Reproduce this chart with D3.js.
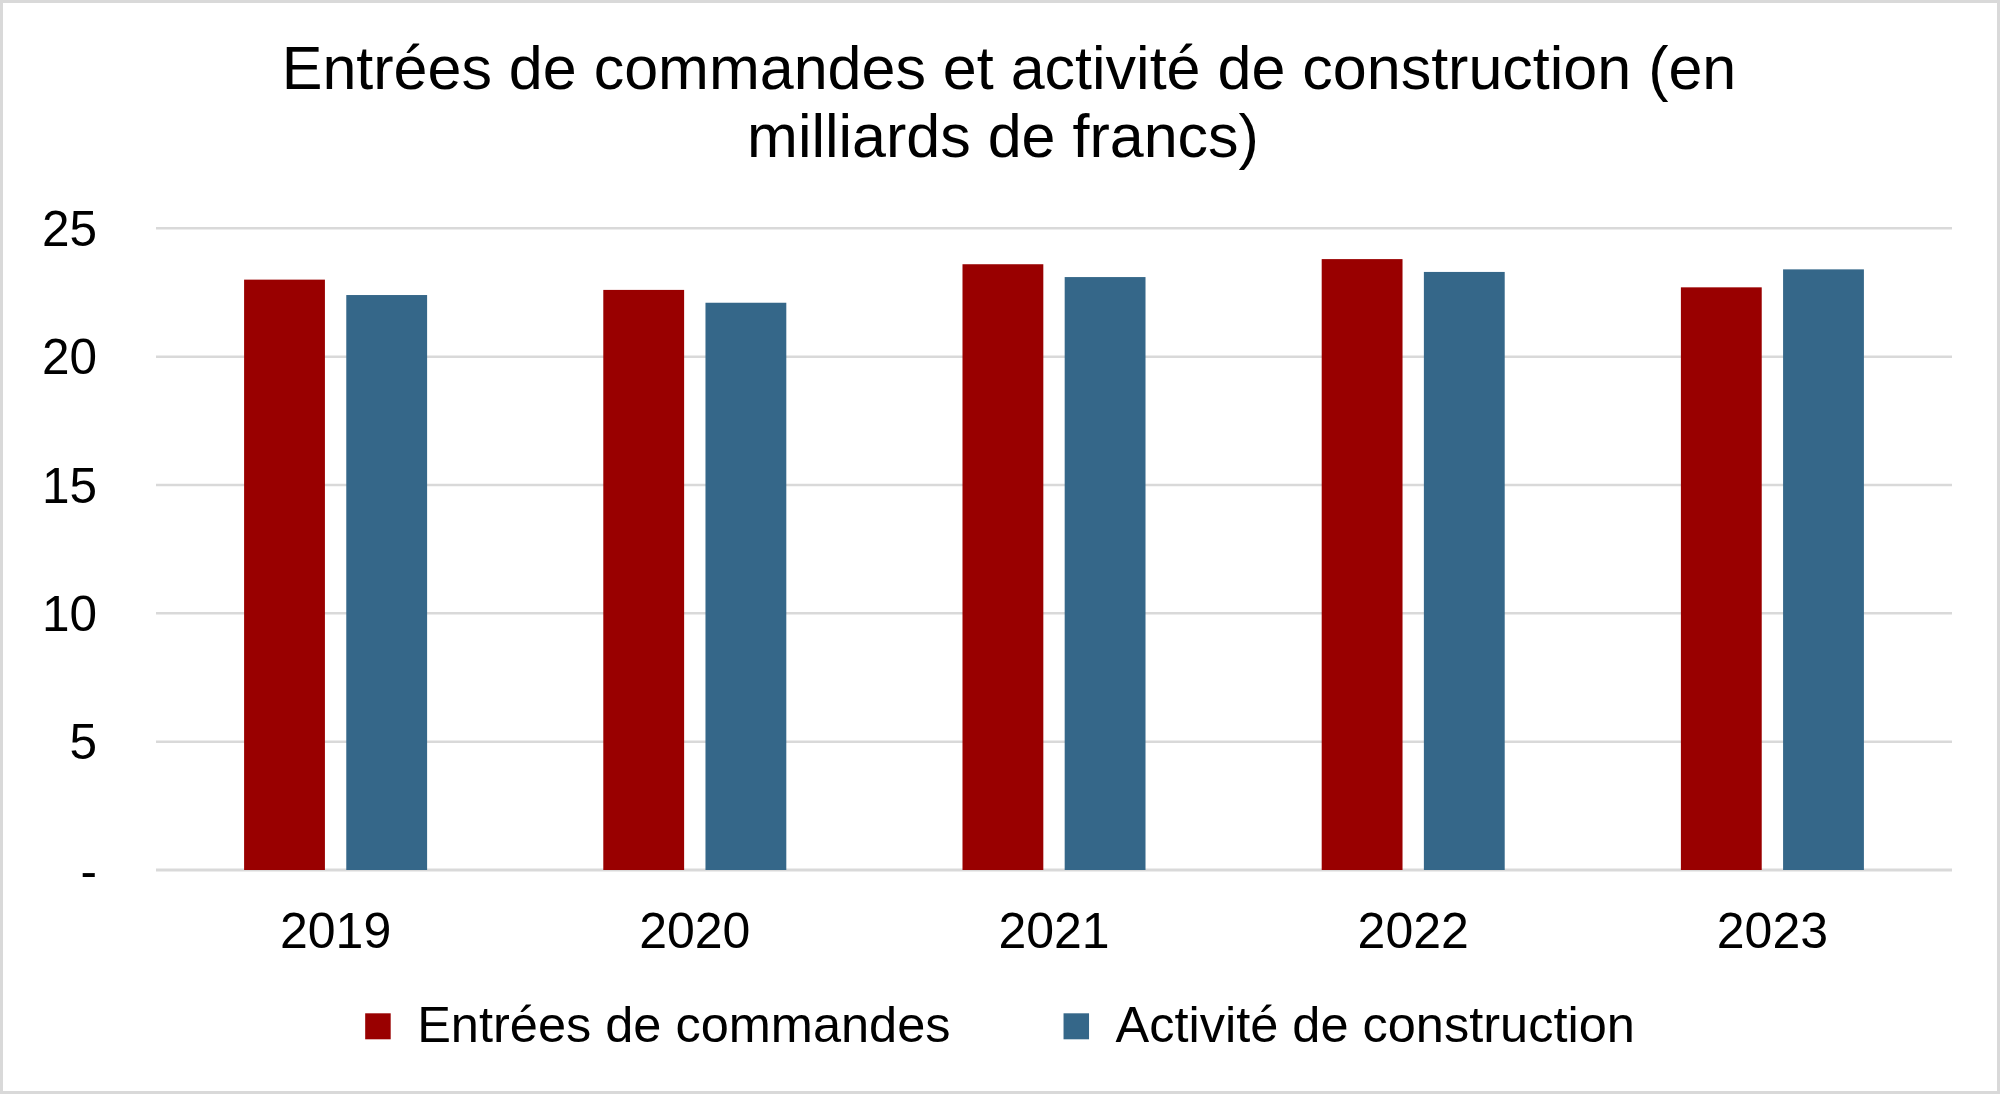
<!DOCTYPE html>
<html>
<head>
<meta charset="utf-8">
<script src="https://cdn.jsdelivr.net/npm/d3@7"></script>
<style>
  html, body { margin: 0; padding: 0; background: #fff; }
  svg { display: block; }
  text { font-family: "Liberation Sans", Arial, sans-serif; fill: #000; }
</style>
</head>
<body>
<svg id="chart" width="2000" height="1094"></svg>
<script>
// ---- Data ----
const years = ["2019", "2020", "2021", "2022", "2023"];
const seriesNames = ["Entrées de commandes", "Activité de construction"];
const entreesCommandes = [23.0, 22.6, 23.6, 23.8, 22.7];
const activiteConstruction = [22.4, 22.1, 23.1, 23.3, 23.4];
const yTicks = [0, 5, 10, 15, 20, 25];
const yTickLabels = ["-", "5", "10", "15", "20", "25"];
const titleLines = ["Entrées de commandes et activité de construction (en", "milliards de francs)"];
const colors = ["#990000", "#356789"];

const seriesValues = [entreesCommandes, activiteConstruction];

// ---- Layout ----
const W = 2000, H = 1094;
const plot = { left: 156, right: 1952, top: 228.3, bottom: 870 };

const svg = d3.select("#chart");

// background + border
svg.append("rect").attr("x", 1.5).attr("y", 1.5).attr("width", W - 3).attr("height", H - 3)
  .attr("fill", "#fff").attr("stroke", "#d9d9d9").attr("stroke-width", 3);

// title
const title = svg.append("text").attr("text-anchor", "middle").attr("font-size", 61);
title.selectAll("tspan").data(titleLines).join("tspan")
  .attr("x", (d, i) => i === 0 ? 1009 : 1003).attr("y", (d, i) => 89.3 + i * 67.4).text(d => d);

// scales
const x = d3.scaleBand().domain(years).range([plot.left, plot.right])
  .paddingInner(0.4905).paddingOuter(0.4905 / 2);
const xs = d3.scaleBand().domain(d3.range(seriesNames.length)).range([0, x.bandwidth()])
  .paddingInner(0.209).paddingOuter(0);
const y = d3.scaleLinear().domain([0, 25]).range([plot.bottom, plot.top]);

// gridlines
svg.append("g").selectAll("line").data(yTicks).join("line")
  .attr("x1", plot.left).attr("x2", plot.right)
  .attr("y1", d => y(d)).attr("y2", d => y(d))
  .attr("stroke", "#d9d9d9").attr("stroke-width", d => d === 0 ? 3 : 2.5);

// bars
const groups = svg.append("g").selectAll("g").data(years).join("g")
  .attr("transform", d => `translate(${x(d)},0)`);
groups.selectAll("rect")
  .data((yr, i) => seriesValues.map((vals, s) => ({ s, v: vals[i] })))
  .join("rect")
  .attr("x", d => xs(d.s))
  .attr("width", xs.bandwidth())
  .attr("y", d => y(d.v))
  .attr("height", d => y(0) - y(d.v))
  .attr("fill", d => colors[d.s]);

// y axis labels
const yAxis = d3.axisLeft(y).tickValues(yTicks)
  .tickFormat((d, i) => yTickLabels[i]).tickSize(0).tickPadding(0);
const gy = svg.append("g").attr("transform", `translate(97,0)`).call(yAxis);
gy.select(".domain").remove();
gy.selectAll("text").attr("font-size", 49.5).attr("font-family", "'Liberation Sans', Arial, sans-serif")
  .attr("fill", "#000").attr("dy", "0.35em");

// x axis labels
const xAxis = d3.axisBottom(x).tickSize(0).tickPadding(0);
const gx = svg.append("g").attr("transform", `translate(0,${plot.bottom})`).call(xAxis);
gx.select(".domain").remove();
gx.selectAll("text").attr("font-size", 50).attr("font-family", "'Liberation Sans', Arial, sans-serif")
  .attr("fill", "#000").attr("dy", null).attr("y", 78);

// legend
const legend = svg.append("g");
const items = legend.selectAll("g").data(seriesNames).join("g");
items.append("rect").attr("width", 25.5).attr("height", 26).attr("y", 1013.3)
  .attr("fill", (d, i) => colors[i]);
items.append("text").attr("font-size", 50.5).attr("y", 1042.3).attr("x", 52).text(d => d);
const widths = [];
items.each(function () {
  const tw = d3.select(this).select("text").node().getComputedTextLength();
  widths.push(52 + tw);
});
const gap = 113;
const total = d3.sum(widths) + gap * (widths.length - 1);
let start = 1000 - total / 2;
items.attr("transform", (d, i) => {
  const tx = start;
  start += widths[i] + gap;
  return `translate(${tx},0)`;
});
</script>
</body>
</html>
